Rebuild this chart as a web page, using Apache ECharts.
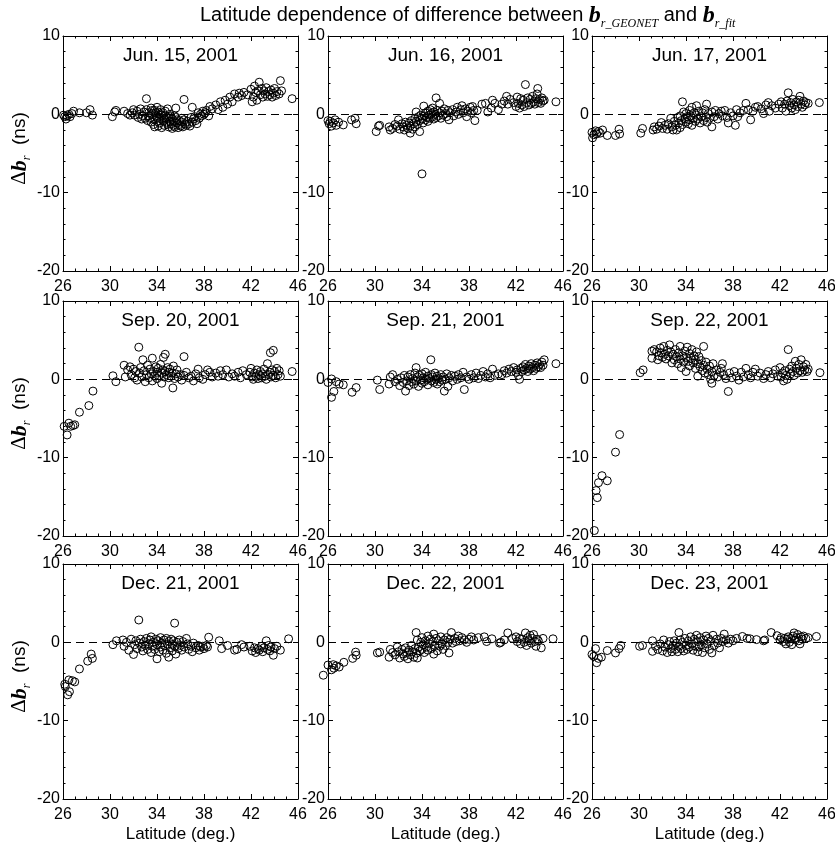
<!DOCTYPE html>
<html>
<head>
<meta charset="utf-8">
<script src="https://cdn.jsdelivr.net/npm/echarts@6/dist/echarts.min.js"></script>
<style>html,body{margin:0;padding:0;background:#fff}#chart{width:835px;height:843px}</style>
</head>
<body>
<div id="chart"></div>
<script>
// ---- data: [latitude (deg), delta b_r (ns)] ----
const panelTitles = ['Jun. 15, 2001','Jun. 16, 2001','Jun. 17, 2001','Sep. 20, 2001','Sep. 21, 2001','Sep. 22, 2001','Dec. 21, 2001','Dec. 22, 2001','Dec. 23, 2001'];
const xTicks = [26, 30, 34, 38, 42, 46];
const yTicks = [-20, -10, 0, 10];

const jun15 = [[26.05,-0.1],[26.15,-0.3],[26.25,-0.6],[26.35,-0.2],[26.5,0.0],[26.6,-0.3],[26.75,0.1],[26.9,0.4],[27.4,0.2],[28.0,0.2],[28.3,0.6],[28.5,-0.1],
[30.2,-0.3],[30.4,0.3],[30.5,0.5],[31.2,0.4],[31.5,0.1],[31.7,-0.1],[31.9,0.2],
[32.0,0.6],[32.1,-0.1],[32.3,0.4],[32.4,-0.4],[32.5,0.0],[32.6,0.7],[32.7,-0.6],[32.8,-0.2],[32.9,0.3],[33.0,-0.5],[33.1,2.0],[33.1,0.6],[33.2,-0.8],[33.3,0.2],[33.3,-0.2],[33.4,-0.5],[33.5,0.8],[33.5,-1.0],[33.6,0.1],[33.6,0.5],[33.7,-0.6],[33.7,-1.3],[33.8,0.5],[33.8,-1.6],[33.9,-0.2],[33.9,0.2],[34.0,0.9],[34.0,-0.9],[34.0,-0.4],[34.1,0.3],[34.1,-1.5],[34.2,-0.4],[34.2,-1.1],[34.3,0.6],[34.3,0.0],[34.4,-0.1],[34.4,-1.7],[34.5,0.2],[34.5,-0.8],[34.6,-0.6],[34.6,-1.4],[34.7,0.4],[34.7,-0.2],[34.8,-0.4],[34.8,-1.0],[34.9,0.7],[34.9,-1.3],[35.0,-0.5],[35.0,-1.6],[35.1,0.0],[35.1,-0.9],[35.2,-1.2],[35.2,-0.3],[35.3,-0.6],[35.3,-1.8],[35.4,-0.9],[35.4,-1.4],[35.5,-1.6],[35.5,-0.2],[35.6,-0.4],[35.6,0.8],[35.7,-1.1],[35.7,-0.7],[35.8,-1.7],[35.9,-0.8],[35.9,-1.3],[36.0,-1.5],[36.1,-1.0],[36.1,-0.5],[36.2,-1.6],[36.3,1.9],[36.3,-0.7],[36.4,-1.2],[36.5,-1.4],[36.6,-0.9],[36.7,-1.2],[36.8,-1.5],[36.9,-0.4],[37.0,0.9],[37.0,-1.0],[37.1,-0.6],[37.2,-0.3],[37.3,-0.8],[37.4,-1.2],[37.5,0.2],[37.6,-0.5],[37.7,0.0],[37.8,-0.2],[37.9,0.4],[38.0,0.0],[38.1,0.2],[38.2,0.5],[38.4,-0.2],[38.5,1.0],[38.7,0.7],[39.0,1.2],[39.2,0.6],[39.4,1.6],[39.6,0.9],[39.8,1.8],[40.0,1.3],[40.2,2.2],[40.4,1.6],[40.6,2.6],[40.9,2.2],[41.0,2.7],[41.2,2.4],[41.4,2.8],[41.7,2.5],[42.0,3.2],[42.1,1.6],[42.2,2.2],[42.3,3.6],[42.4,2.8],[42.5,1.8],[42.6,3.0],[42.7,4.1],[42.8,2.5],[42.9,3.3],[43.0,2.2],[43.1,3.0],[43.2,2.6],[43.3,3.4],[43.4,2.3],[43.5,2.9],[43.6,2.5],[43.7,3.1],[43.8,2.2],[43.9,2.7],[44.0,3.3],[44.1,2.4],[44.2,2.9],[44.4,2.6],[44.5,4.3],[44.6,3.0],[45.5,2.0]];

const jun16 = [[26.0,-0.8],[26.1,-1.2],[26.2,-0.9],[26.3,-1.5],[26.45,-1.1],[26.6,-0.7],[26.7,-1.4],[26.9,-1.0],[27.3,-1.35],[28.0,-0.7],[28.3,-0.5],[28.4,-1.2],
[30.1,-2.2],[30.3,-1.5],[30.4,-1.4],
[31.2,-1.6],[31.3,-2.0],[31.5,-1.8],[31.7,-1.3],[31.9,-1.5],[32.0,-0.7],[32.1,-1.9],[32.3,-1.2],[32.4,-1.6],[32.5,-2.0],[32.6,-1.0],[32.7,-1.4],[32.8,-1.8],[32.9,-1.1],[33.0,-2.4],[33.0,-1.5],[33.1,-0.8],[33.2,-1.9],[33.3,-1.2],[33.4,-0.5],[33.4,-1.6],[33.5,0.3],[33.5,-0.9],[33.6,-1.3],[33.7,-0.3],[33.8,-2.2],[33.8,-0.8],[33.9,-0.1],[34.0,-7.6],[34.0,-0.6],[34.1,-1.1],[34.15,1.05],[34.2,-0.2],[34.3,-0.7],[34.3,0.2],[34.4,-0.4],[34.5,0.4],[34.5,-0.9],[34.6,-0.1],[34.7,0.6],[34.7,-0.5],[34.8,0.1],[34.9,-0.3],[34.9,0.8],[35.0,-0.6],[35.0,0.3],[35.1,0.0],[35.2,2.1],[35.2,-0.4],[35.3,0.5],[35.4,-0.2],[35.5,1.4],[35.5,0.2],[35.6,-0.5],[35.7,0.4],[35.8,-0.1],[35.9,0.7],[36.0,0.1],[36.1,-0.3],[36.2,0.5],[36.3,-0.7],[36.4,0.2],[36.6,0.6],[36.7,-0.2],[36.9,0.3],[37.0,0.9],[37.1,0.0],[37.3,0.6],[37.4,1.1],[37.5,0.2],[37.7,0.7],[37.8,-0.3],[37.9,0.4],[38.1,0.9],[38.2,0.2],[38.3,1.0],[38.4,0.5],[38.5,-0.8],[38.7,0.5],[39.1,1.3],[39.4,1.4],[39.6,0.3],[39.9,0.8],[40.0,1.8],[40.2,1.4],[40.5,0.6],[40.8,1.3],[41.0,1.7],[41.2,2.3],[41.3,1.3],[41.5,1.9],[41.8,1.5],[42.0,1.0],[42.1,2.2],[42.2,1.4],[42.3,0.8],[42.4,2.0],[42.5,1.2],[42.6,1.8],[42.7,1.0],[42.8,3.8],[42.9,1.5],[43.0,2.1],[43.1,1.2],[43.2,1.9],[43.3,1.4],[43.4,2.3],[43.5,1.6],[43.6,1.3],[43.7,2.0],[43.8,2.6],[43.85,3.3],[43.9,1.5],[44.0,1.9],[44.1,1.4],[44.2,2.1],[44.3,1.7],[44.4,1.8],[45.4,1.6]];

const jun17 = [[26.0,-2.3],[26.05,-3.0],[26.15,-2.6],[26.3,-2.1],[26.4,-2.5],[26.55,-2.2],[26.7,-2.4],[26.9,-2.0],[27.3,-2.7],[28.0,-2.7],[28.3,-1.9],[28.35,-2.5],
[30.15,-2.4],[30.3,-1.8],
[31.2,-2.0],[31.3,-1.6],[31.5,-1.9],[31.7,-1.5],[31.9,-1.05],[32.0,-1.8],[32.2,-1.4],[32.4,-1.9],[32.5,-1.2],[32.7,-0.5],[32.8,-1.6],[32.9,-2.0],[33.0,-0.9],[33.1,-1.4],[33.2,-2.0],[33.3,-0.4],[33.4,-1.1],[33.5,-1.7],[33.5,-0.2],[33.6,-0.8],[33.7,1.6],[33.7,-1.3],[33.8,0.3],[33.9,-0.6],[34.0,-1.0],[34.0,0.1],[34.1,-0.3],[34.2,-1.2],[34.3,0.5],[34.3,-0.7],[34.4,-0.2],[34.5,0.9],[34.5,-1.4],[34.6,-0.5],[34.7,0.2],[34.8,-0.9],[34.9,1.1],[34.9,-0.1],[35.0,-0.6],[35.1,0.4],[35.2,-1.1],[35.3,-0.3],[35.4,0.2],[35.5,-0.8],[35.6,0.6],[35.7,-0.4],[35.75,1.3],[35.8,-1.0],[35.9,0.1],[36.0,-0.5],[36.2,-1.6],[36.2,0.3],[36.4,-0.3],[36.5,0.5],[36.7,-0.6],[36.8,0.1],[37.0,0.4],[37.1,-0.2],[37.3,0.5],[37.5,-0.4],[37.6,-1.1],[37.8,0.2],[38.0,-0.2],[38.2,-1.4],[38.3,0.6],[38.4,-0.3],[38.6,0.2],[38.9,0.5],[39.1,1.4],[39.3,0.6],[39.5,-0.7],[39.7,0.4],[39.9,0.9],[40.1,1.0],[40.4,0.7],[40.6,0.1],[40.8,1.2],[41.0,1.5],[41.1,0.4],[41.3,1.1],[41.6,0.8],[41.9,1.3],[42.1,1.6],[42.2,0.8],[42.4,1.3],[42.5,0.4],[42.6,1.7],[42.7,2.75],[42.8,1.1],[42.9,1.5],[43.0,0.8],[43.1,1.9],[43.2,1.2],[43.3,0.6],[43.4,1.6],[43.5,1.0],[43.6,1.8],[43.7,2.3],[43.8,1.3],[43.9,0.9],[44.0,1.7],[44.1,1.2],[44.2,1.5],[44.4,1.4],[45.35,1.5]];

const sep20 = [[26.1,-6.0],[26.35,-7.1],[26.5,-5.6],[26.65,-6.0],[26.85,-5.9],[27.0,-5.8],[27.4,-4.2],[28.2,-3.35],[28.55,-1.5],
[30.25,0.45],[30.5,-0.3],
[31.2,1.8],[31.3,0.3],[31.5,1.2],[31.7,1.6],[31.8,0.6],[32.0,1.3],[32.1,0.2],[32.2,1.0],[32.3,-0.1],[32.45,4.1],[32.5,0.8],[32.6,1.5],[32.7,0.3],[32.8,2.5],[32.9,1.1],[33.0,-0.3],[33.1,0.6],[33.2,1.8],[33.3,0.2],[33.4,1.3],[33.5,0.7],[33.6,2.7],[33.6,-0.2],[33.7,1.0],[33.8,0.4],[33.9,1.6],[34.0,0.9],[34.0,0.1],[34.1,1.4],[34.2,0.5],[34.3,1.9],[34.4,-0.5],[34.4,0.8],[34.5,1.2],[34.55,2.8],[34.6,0.3],[34.7,3.2],[34.7,1.0],[34.8,0.6],[34.9,1.5],[35.0,0.2],[35.0,0.9],[35.1,1.3],[35.2,0.4],[35.3,0.8],[35.35,-1.1],[35.4,1.7],[35.5,0.1],[35.6,0.7],[35.7,1.2],[35.8,0.3],[36.0,0.6],[36.1,-0.1],[36.3,2.9],[36.3,0.5],[36.5,0.9],[36.7,0.2],[36.9,0.4],[37.1,-0.2],[37.3,0.7],[37.5,1.3],[37.6,0.2],[37.9,0.0],[38.1,0.6],[38.3,1.2],[38.5,0.9],[38.7,0.3],[39.0,0.8],[39.2,0.4],[39.4,1.1],[39.6,0.6],[39.9,1.2],[40.1,0.3],[40.4,0.7],[40.6,0.4],[40.9,0.9],[41.1,0.2],[41.3,1.1],[41.6,0.6],[41.9,0.9],[42.0,1.4],[42.1,0.3],[42.2,0.0],[42.3,0.8],[42.4,0.4],[42.5,1.2],[42.6,0.1],[42.7,0.6],[42.8,1.0],[42.9,0.2],[43.0,0.7],[43.1,1.3],[43.2,0.4],[43.3,0.0],[43.4,2.0],[43.5,0.6],[43.6,0.9],[43.65,3.4],[43.7,0.3],[43.8,1.2],[43.9,3.7],[43.9,0.5],[44.0,1.0],[44.1,0.2],[44.2,1.4],[44.3,0.6],[44.4,1.1],[44.5,0.4],[45.5,1.0]];

const sep21 = [[26.0,-0.4],[26.3,0.05],[26.3,-2.3],[26.5,-1.55],[26.7,-0.3],[26.95,-0.6],[27.3,-0.7],[28.05,-1.65],[28.4,-1.05],
[30.2,-0.1],[30.4,-1.3],
[31.2,-0.6],[31.3,0.3],[31.5,0.6],[31.7,-0.3],[31.9,0.0],[32.1,-0.8],[32.2,0.2],[32.4,-0.4],[32.5,0.5],[32.6,-1.5],[32.7,-0.2],[32.8,0.3],[32.9,-0.8],[33.0,0.6],[33.1,-0.3],[33.2,0.1],[33.3,-0.6],[33.4,0.8],[33.5,1.5],[33.5,-0.2],[33.6,0.3],[33.7,-0.9],[33.8,0.5],[33.9,-0.1],[34.0,0.7],[34.0,-0.5],[34.1,0.2],[34.2,-0.3],[34.3,0.9],[34.4,0.0],[34.5,-0.7],[34.5,0.4],[34.6,0.1],[34.75,2.5],[34.8,-0.2],[34.8,0.6],[34.9,0.3],[35.0,-0.4],[35.1,0.8],[35.2,0.0],[35.3,-0.6],[35.3,0.4],[35.4,0.1],[35.5,-0.3],[35.6,0.6],[35.7,-0.1],[35.8,0.3],[35.9,-1.5],[36.0,0.0],[36.1,0.7],[36.2,-0.9],[36.3,0.2],[36.5,0.5],[36.6,-0.2],[36.8,0.4],[37.0,0.0],[37.1,0.6],[37.3,0.2],[37.5,0.9],[37.6,-1.3],[37.8,0.3],[38.0,0.0],[38.2,0.6],[38.4,0.2],[38.6,0.8],[38.8,0.1],[39.0,0.5],[39.2,1.0],[39.4,0.3],[39.6,0.7],[39.8,0.2],[40.0,1.3],[40.2,0.5],[40.5,0.7],[40.8,0.6],[41.0,1.1],[41.2,0.8],[41.4,1.3],[41.6,1.0],[41.8,1.5],[42.0,0.9],[42.1,1.2],[42.2,0.5],[42.3,0.0],[42.4,1.4],[42.5,1.0],[42.6,1.6],[42.7,1.2],[42.8,1.9],[42.9,1.4],[43.0,1.0],[43.1,1.7],[43.2,1.3],[43.3,2.0],[43.4,1.5],[43.5,1.1],[43.6,1.8],[43.7,1.4],[43.8,2.1],[43.9,1.6],[44.0,1.9],[44.1,1.5],[44.2,2.2],[44.3,1.8],[44.4,2.5],[45.4,2.0]];

const sep22 = [[26.2,-19.3],[26.35,-14.2],[26.45,-15.1],[26.55,-13.2],[26.85,-12.3],[27.3,-12.95],[28.0,-9.3],[28.35,-7.05],
[30.1,0.85],[30.35,1.2],
[31.1,2.7],[31.1,3.6],[31.3,3.8],[31.5,3.5],[31.6,2.5],[31.7,3.0],[31.8,4.0],[31.9,3.4],[32.0,2.8],[32.1,4.2],[32.2,3.2],[32.3,2.6],[32.4,3.7],[32.5,3.0],[32.6,4.4],[32.7,3.5],[32.8,2.1],[32.9,3.2],[33.0,2.5],[33.1,3.8],[33.2,2.9],[33.3,2.0],[33.4,3.4],[33.5,4.2],[33.5,2.6],[33.6,1.5],[33.7,3.0],[33.8,2.2],[33.9,3.6],[34.0,1.0],[34.0,2.8],[34.1,4.1],[34.2,2.3],[34.3,3.3],[34.3,1.7],[34.4,2.7],[34.5,3.8],[34.6,2.1],[34.7,3.0],[34.8,1.4],[34.8,2.5],[34.9,3.5],[35.0,0.4],[35.0,2.0],[35.1,2.9],[35.2,1.6],[35.3,2.4],[35.4,1.1],[35.5,4.2],[35.5,1.8],[35.6,0.8],[35.7,2.2],[35.8,1.3],[35.9,0.6],[36.0,1.7],[36.1,0.0],[36.2,-0.5],[36.2,1.0],[36.3,2.0],[36.4,0.5],[36.6,1.2],[36.7,0.3],[36.9,0.9],[37.0,1.4],[37.1,2.0],[37.2,0.6],[37.4,0.1],[37.6,-1.55],[37.7,0.8],[37.9,0.2],[38.1,1.0],[38.3,0.4],[38.5,-0.1],[38.7,0.9],[38.9,0.3],[39.1,1.4],[39.3,0.6],[39.5,0.2],[39.7,0.9],[39.9,1.3],[40.1,0.4],[40.3,0.8],[40.6,0.1],[40.8,0.6],[41.0,1.0],[41.2,0.2],[41.4,0.7],[41.6,1.2],[41.8,0.4],[42.0,1.5],[42.1,0.3],[42.2,0.8],[42.3,-0.2],[42.4,1.1],[42.5,0.5],[42.6,0.0],[42.7,3.8],[42.8,1.3],[42.9,0.7],[43.0,1.7],[43.1,1.0],[43.2,0.5],[43.3,2.3],[43.4,1.4],[43.5,0.8],[43.6,1.9],[43.7,1.1],[43.8,2.5],[43.9,0.9],[44.0,1.6],[44.1,1.2],[44.2,1.9],[44.3,1.0],[44.4,1.3],[45.4,0.85]];

const dec21 = [[26.15,-5.35],[26.2,-5.65],[26.4,-6.7],[26.55,-6.3],[26.5,-4.8],[26.8,-4.9],[27.0,-5.05],[27.4,-3.4],[28.1,-2.4],[28.5,-2.05],[28.4,-1.5],
[30.25,-0.3],[30.55,0.2],
[31.1,0.3],[31.2,-0.5],[31.4,0.0],[31.6,-1.0],[31.8,0.4],[32.0,-1.55],[32.1,-0.3],[32.2,0.2],[32.3,-0.8],[32.45,2.85],[32.5,-0.1],[32.6,0.4],[32.7,-0.6],[32.8,-1.1],[32.9,0.1],[33.0,-0.4],[33.1,0.5],[33.2,-0.9],[33.3,-0.2],[33.4,0.3],[33.5,-1.3],[33.5,0.7],[33.6,-0.5],[33.7,0.0],[33.8,-0.9],[33.9,0.4],[34.0,-2.1],[34.0,-0.3],[34.1,0.2],[34.2,-1.2],[34.3,-0.6],[34.3,0.6],[34.4,-0.1],[34.5,-1.0],[34.6,0.3],[34.7,-0.4],[34.8,-1.4],[34.8,0.5],[34.9,-0.2],[35.0,-1.9],[35.0,0.1],[35.1,-0.7],[35.2,0.4],[35.3,-1.1],[35.3,-0.3],[35.4,0.2],[35.5,2.45],[35.5,-0.5],[35.6,-1.5],[35.7,0.0],[35.8,-0.8],[35.9,0.3],[36.0,-0.4],[36.1,-1.0],[36.2,0.1],[36.3,-0.6],[36.5,0.5],[36.6,-0.2],[36.7,-0.9],[36.9,-0.5],[37.0,-1.2],[37.1,-0.1],[37.3,-0.7],[37.5,-0.4],[37.6,-1.0],[37.7,-0.6],[37.9,-0.5],[38.0,-0.8],[38.2,-0.4],[38.3,-0.6],[38.4,0.65],
[39.3,0.2],[39.5,-0.8],[40.0,-0.4],[40.6,-1.0],[40.8,-0.9],[41.2,-0.3],[41.4,-0.6],[41.9,-0.5],[42.1,-1.1],[42.3,-0.7],[42.4,-1.3],[42.6,-0.8],[42.7,-1.0],[42.9,-0.5],[43.0,-1.2],[43.1,-0.7],[43.3,0.2],[43.4,-0.9],[43.5,-0.4],[43.6,-1.1],[43.7,-0.6],[43.9,-1.65],[44.0,-0.8],[44.2,-0.5],[44.5,-1.0],[45.2,0.45]];

const dec22 = [[25.6,-4.2],[26.0,-2.9],[26.3,-3.5],[26.45,-2.85],[26.5,-3.3],[26.7,-3.0],[26.95,-3.15],[27.35,-2.55],[28.1,-2.05],[28.35,-1.25],[28.4,-1.65],
[30.2,-1.35],[30.4,-1.25],
[31.2,-1.9],[31.3,-0.9],[31.5,-1.3],[31.7,-1.6],[31.9,-0.6],[32.0,-1.2],[32.1,-2.0],[32.3,-0.9],[32.4,-1.5],[32.5,-1.8],[32.6,-0.7],[32.7,-1.3],[32.8,-2.1],[32.9,-1.0],[33.0,-1.6],[33.1,-0.4],[33.2,-1.2],[33.3,-1.9],[33.4,-0.8],[33.5,1.25],[33.5,-1.4],[33.6,-2.0],[33.6,0.3],[33.7,-0.6],[33.8,-1.1],[33.9,0.0],[34.0,-0.9],[34.0,0.6],[34.1,-0.3],[34.2,-1.3],[34.3,0.2],[34.4,-0.6],[34.5,0.8],[34.5,-1.0],[34.6,-0.2],[34.7,0.4],[34.8,-0.8],[34.9,0.1],[35.0,1.05],[35.0,-1.5],[35.1,-0.4],[35.2,0.5],[35.3,-1.1],[35.4,0.2],[35.5,-0.5],[35.6,0.7],[35.7,-0.2],[35.8,-0.9],[35.9,0.3],[36.0,-0.4],[36.1,0.6],[36.2,0.0],[36.3,-1.35],[36.4,0.4],[36.5,1.25],[36.6,-0.1],[36.8,0.5],[36.9,0.1],[37.1,0.8],[37.2,0.2],[37.4,0.6],[37.6,0.3],[37.8,0.0],[38.0,0.4],[38.2,0.7],[38.4,0.3],[38.8,0.6],[39.3,0.7],[39.5,0.1],[39.95,0.45],[40.6,-0.1],[40.7,0.0],[41.0,0.3],[41.3,1.2],[41.7,0.5],[42.0,0.7],[42.1,0.1],[42.3,0.5],[42.4,-0.2],[42.5,0.4],[42.7,0.0],[42.8,1.2],[42.9,-0.4],[43.0,0.6],[43.1,0.2],[43.2,0.9],[43.3,-0.1],[43.4,0.5],[43.5,1.0],[43.6,0.1],[43.7,-0.5],[43.8,0.4],[43.9,0.2],[44.15,-0.7],[44.3,0.5],[45.15,0.45]];

const dec23 = [[26.0,-1.55],[26.15,-1.8],[26.3,-0.8],[26.4,-2.6],[26.55,-2.05],[26.8,-1.9],[27.3,-1.05],[28.0,-1.35],[28.3,-0.8],[28.45,-0.4],
[30.05,-0.5],[30.3,-0.4],
[31.15,0.2],[31.15,-1.15],[31.4,-0.5],[31.6,-0.9],[31.8,-0.2],[32.0,-1.1],[32.1,0.3],[32.2,-0.6],[32.4,-1.3],[32.5,-0.3],[32.6,0.1],[32.7,-0.8],[32.8,-1.2],[32.9,-0.4],[33.0,0.2],[33.1,-0.9],[33.2,-0.1],[33.3,-1.2],[33.4,1.25],[33.4,-0.5],[33.5,0.3],[33.6,-0.8],[33.7,0.0],[33.8,-1.1],[33.9,0.5],[34.0,-0.4],[34.1,-0.9],[34.2,0.2],[34.3,-0.6],[34.4,0.7],[34.5,-0.2],[34.6,-1.0],[34.7,0.4],[34.8,-0.5],[34.9,0.9],[35.0,-1.2],[35.0,0.1],[35.1,-0.6],[35.2,0.6],[35.3,-0.3],[35.4,-1.3],[35.5,0.3],[35.6,-0.7],[35.7,0.8],[35.8,-0.2],[35.9,0.5],[36.0,-0.9],[36.1,0.2],[36.2,-1.35],[36.3,0.9],[36.4,-0.4],[36.6,0.4],[36.7,-0.1],[36.85,-0.7],[37.0,0.5],[37.1,0.1],[37.25,1.05],[37.4,0.3],[37.6,-0.1],[37.8,0.4],[38.0,0.2],[38.3,0.5],[38.8,0.75],[39.2,0.5],[39.45,0.45],[40.0,0.35],[40.6,0.2],[40.7,0.3],[41.25,1.25],[41.75,0.85],[42.0,0.3],[42.1,0.6],[42.3,0.1],[42.4,0.5],[42.5,-0.2],[42.6,0.4],[42.7,0.7],[42.8,0.0],[42.9,0.5],[43.0,-0.3],[43.1,0.8],[43.2,1.2],[43.3,0.3],[43.4,0.6],[43.5,1.0],[43.6,0.2],[43.7,-0.2],[43.8,0.7],[43.9,0.4],[44.0,0.8],[44.2,0.5],[44.4,0.6],[45.1,0.75]];

const panelData = [jun15, jun16, jun17, sep20, sep21, sep22, dec21, dec22, dec23];

// ---- layout ----
const colLeft = [63, 328, 592];
const rowTop = [36, 301, 564];
const PW = 235, PH = 235;
const FONT = '"Liberation Sans", Arial, Helvetica, sans-serif';
const SERIF = '"Liberation Serif", "Times New Roman", serif';

const chart = echarts.init(document.getElementById('chart'), null, {renderer: 'canvas'});

const grids = [], xAxes = [], yAxes = [], series = [];
const titles = [{
  text: 'Latitude dependence of difference between {b|b}{s|r_GEONET} and {b|b}{s|r_fit}',
  left: 200, top: 1, padding: 0,
  textStyle: {
    fontFamily: FONT, fontSize: 20, fontWeight: 'normal', color: '#000', lineHeight: 29,
    rich: {
      b: {fontFamily: SERIF, fontStyle: 'italic', fontWeight: 'bold', fontSize: 24, color: '#000', lineHeight: 29},
      s: {fontFamily: SERIF, fontStyle: 'italic', fontSize: 12, color: '#000', verticalAlign: 'bottom', lineHeight: 29}
    }
  }
}];

const tickLine = {color: '#000', width: 1};
for (let i = 0; i < 9; i++) {
  const r = Math.floor(i / 3), c = i % 3;
  grids.push({left: colLeft[c], top: rowTop[r], width: PW, height: PH, show: false, containLabel: false, outerBoundsMode: 'none'});
  const baseX = {
    gridIndex: i, type: 'value', min: xTicks[0], max: xTicks[xTicks.length - 1], interval: xTicks[1] - xTicks[0],
    axisLine: {show: true, onZero: false, lineStyle: tickLine},
    axisTick: {show: true, inside: true, length: 5, lineStyle: tickLine},
    minorTick: {show: true, splitNumber: 4, length: 2.5, lineStyle: tickLine},
    splitLine: {show: false}, minorSplitLine: {show: false}
  };
  xAxes.push(Object.assign({}, baseX, {
    position: 'bottom',
    axisLabel: {show: true, color: '#000', fontSize: 16, fontFamily: FONT, margin: 8, showMinLabel: true, showMaxLabel: true, hideOverlap: false},
    name: r === 2 ? 'Latitude (deg.)' : '', nameLocation: 'middle', nameGap: 27,
    nameTextStyle: {color: '#000', fontSize: 17, fontFamily: FONT}
  }));
  xAxes.push(Object.assign({}, baseX, {position: 'top', axisLabel: {show: false}}));
  const baseY = {
    gridIndex: i, type: 'value', min: yTicks[0], max: yTicks[yTicks.length - 1], interval: yTicks[1] - yTicks[0],
    axisLine: {show: true, onZero: false, lineStyle: tickLine},
    axisTick: {show: true, inside: true, length: 5, lineStyle: tickLine},
    minorTick: {show: true, splitNumber: 5, length: 2.5, lineStyle: tickLine},
    splitLine: {show: false}, minorSplitLine: {show: false}
  };
  yAxes.push(Object.assign({}, baseY, {
    position: 'left',
    axisLabel: {show: true, color: '#000', fontSize: 16, fontFamily: FONT, margin: 3, showMinLabel: true, showMaxLabel: true, hideOverlap: false},
    name: c === 0 ? '{d|Δ}{b|b}{s|r}  (ns)' : '', nameLocation: 'middle', nameRotate: 90, nameGap: 29,
    nameTextStyle: {
      color: '#000', fontSize: 19, fontFamily: FONT, lineHeight: 26, padding: [0, 0, 0, 10],
      rich: {
        d: {fontFamily: SERIF, fontSize: 21, color: '#000', lineHeight: 26},
        b: {fontFamily: SERIF, fontStyle: 'italic', fontWeight: 'bold', fontSize: 22, color: '#000', lineHeight: 26},
        s: {fontFamily: SERIF, fontStyle: 'italic', fontSize: 12, color: '#000', verticalAlign: 'bottom', lineHeight: 26}
      }
    }
  }));
  yAxes.push(Object.assign({}, baseY, {position: 'right', axisLabel: {show: false}}));

  series.push({
    type: 'scatter', xAxisIndex: 2 * i, yAxisIndex: 2 * i, data: panelData[i],
    symbol: 'circle', symbolSize: 8, clip: false, silent: true,
    itemStyle: {color: 'rgba(0,0,0,0)', borderColor: '#000', borderWidth: 1, opacity: 1},
    markLine: {
      silent: true, symbol: ['none', 'none'], label: {show: false}, animation: false,
      lineStyle: {color: '#000', width: 1, type: [8, 5]},
      data: [{yAxis: 0}]
    }
  });

  titles.push({
    text: panelTitles[i], left: colLeft[c] + PW / 2, top: rowTop[r] + 10, textAlign: 'center', padding: 0,
    textStyle: {fontFamily: FONT, fontSize: 19, fontWeight: 'normal', color: '#000'}
  });
}

chart.setOption({
  animation: false,
  backgroundColor: '#fff',
  title: titles,
  grid: grids,
  xAxis: xAxes,
  yAxis: yAxes,
  series: series
});
</script>
</body>
</html>
